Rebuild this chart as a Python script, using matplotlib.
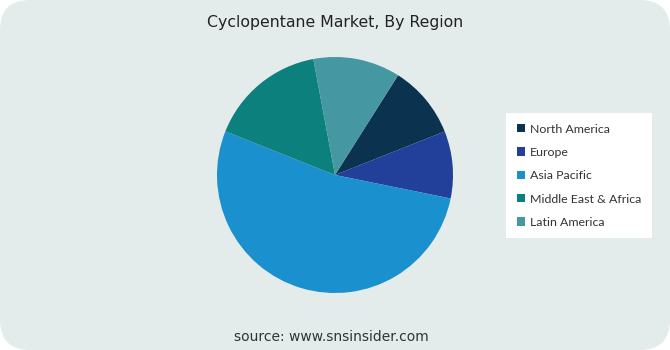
import matplotlib
matplotlib.use("Agg")
import matplotlib.pyplot as plt
from matplotlib.patches import FancyBboxPatch, Patch

regions = ["North America", "Europe", "Asia Pacific", "Middle East & Africa", "Latin America"]
shares = [10.0, 9.2, 52.8, 16.0, 11.9]
colors = ["#0B3350", "#22409A", "#1A90CE", "#0C807C", "#4598A1"]

W, H = 670, 350
fig = plt.figure(figsize=(W / 100, H / 100), dpi=100)
fig.patch.set_facecolor("white")

# rounded panel background, kept behind the pie
bg = FancyBboxPatch((0, 0), 1, 1, boxstyle="round,pad=0,rounding_size=0.045",
                    transform=fig.transFigure, facecolor="#E3ECEB", edgecolor="none",
                    mutation_aspect=W / H, zorder=-10)
fig.patches.append(bg)

fig.text(335 / W, 1 - 22 / H, "Cyclopentane Market, By Region", ha="center", va="center",
         fontsize=11.3, family="DejaVu Sans", color="#222222")

cx, cy, r = 335, 175, 118
ax = fig.add_axes([(cx - r) / W, (H - cy - r) / H, 2 * r / W, 2 * r / H])
ax.pie(shares, colors=colors, startangle=57.7, counterclock=False,
       wedgeprops=dict(linewidth=0))
ax.set_xlim(-1, 1)
ax.set_ylim(-1, 1)
ax.set_aspect("equal")
ax.axis("off")

handles = [Patch(facecolor=c, edgecolor="none") for c in colors]
leg = fig.legend(handles, regions, loc="upper left",
                 bbox_to_anchor=(506 / W, 1 - 113 / H),
                 frameon=True, fancybox=False, framealpha=1,
                 handlelength=0.65, handleheight=0.65, handletextpad=0.45,
                 labelspacing=1.0, borderpad=0.85, borderaxespad=0,
                 prop=dict(family="Lato", size=8.9))
leg.get_frame().set_facecolor("white")
leg.get_frame().set_edgecolor("none")
for t in leg.get_texts():
    t.set_color("#333333")

fig.text(331 / W, 1 - 337 / H, "source: www.snsinsider.com", ha="center", va="center",
         fontsize=10, family="DejaVu Sans", color="#333333")

fig.savefig("out.png", dpi=100)
